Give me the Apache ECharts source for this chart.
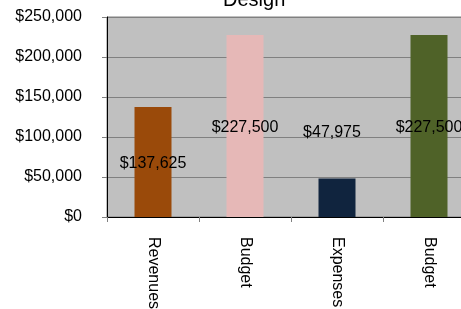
<!DOCTYPE html>
<html>
<head>
<meta charset="utf-8">
<script src="https://cdn.jsdelivr.net/npm/echarts@6/dist/echarts.min.js"></script>
<style>
  html, body { margin: 0; padding: 0; background: #fff; }
  #chart { width: 461px; height: 309px; }
</style>
</head>
<body>
<div id="chart"></div>
<script>
const categories = ["Revenues", "Budget", "Expenses", "Budget"];
const values = [137625, 227500, 47975, 227500];
const barColors = ["#9A4A0A", "#E6B8B7", "#10243E", "#4F6228"];

const fmt = v => "$" + v.toLocaleString("en-US");

const chart = echarts.init(document.getElementById("chart"));

chart.setOption({
  animation: false,
  title: {
    text: "Design",
    left: 218,
    top: -15,
    textStyle: {
      fontFamily: "Liberation Sans",
      fontSize: 20,
      fontWeight: "normal",
      color: "#000"
    }
  },
  grid: {
    left: 107,
    top: 17,
    right: -14,
    bottom: 92,
    outerBoundsMode: "none",
    containLabel: false,
    show: true,
    backgroundColor: "#C0C0C0",
    borderColor: "#808080",
    borderWidth: 1
  },
  xAxis: {
    type: "category",
    data: categories,
    axisLine: { lineStyle: { color: "#000", width: 1 } },
    axisTick: { show: true, length: 5, lineStyle: { color: "#808080" } },
    axisLabel: {
      rotate: -90,
      margin: 20,
      fontFamily: "Liberation Sans",
      fontSize: 16,
      color: "#000"
    }
  },
  yAxis: {
    type: "value",
    min: 0,
    max: 250000,
    interval: 50000,
    axisLine: { show: true, lineStyle: { color: "#000", width: 1 } },
    axisTick: { show: true, length: 5, lineStyle: { color: "#808080" } },
    splitLine: { lineStyle: { color: "#808080", width: 1 } },
    axisLabel: {
      margin: 25,
      formatter: fmt,
      fontFamily: "Liberation Sans",
      fontSize: 16,
      color: "#000"
    }
  },
  series: [
    {
      type: "bar",
      barWidth: 37,
      data: values.map((v, i) => {
        const item = { value: v, itemStyle: { color: barColors[i] } };
        // Excel left this label floating well above its short bar
        if (i === 2) {
          item.label = { offset: [-5, -65] };
        }
        return item;
      }),
      label: {
        show: true,
        position: "inside",
        offset: [0, 2],
        formatter: p => fmt(p.value),
        fontFamily: "Liberation Sans",
        fontSize: 16,
        color: "#000"
      }
    }
  ]
});
</script>
</body>
</html>
